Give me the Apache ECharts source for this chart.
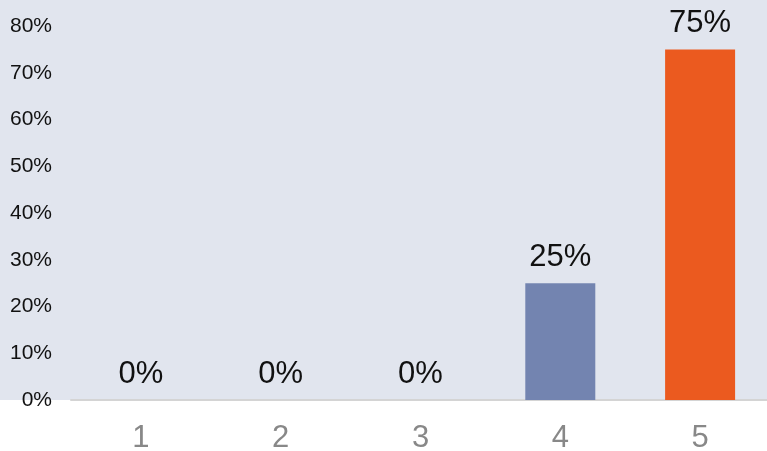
<!DOCTYPE html>
<html>
<head>
<meta charset="utf-8">
<script src="https://cdn.jsdelivr.net/npm/echarts@6/dist/echarts.min.js"></script>
<style>
html,body{margin:0;padding:0;background:#fff;}
#chart{width:767px;height:451px;}
</style>
</head>
<body>
<div id="chart"></div>
<script>
const categories = ['1', '2', '3', '4', '5'];
const values = [0, 0, 0, 0.25, 0.75];
const barColors = ['#7384b0', '#7384b0', '#7384b0', '#7384b0', '#eb5a1f'];
const yTicks = [0, 0.1, 0.2, 0.3, 0.4, 0.5, 0.6, 0.7, 0.8];

const FONT = '"Liberation Sans", Arial, sans-serif';
const chart = echarts.init(document.getElementById('chart'), null, {renderer: 'canvas'});
const pct = v => Math.round(v * 100) + '%';

chart.setOption({
  animation: false,
  backgroundColor: '#ffffff',
  textStyle: {fontFamily: FONT},
  graphic: [{
    type: 'rect',
    z: -10,
    silent: true,
    shape: {x: 0, y: 0, width: 767, height: 400},
    style: {fill: '#e1e5ee'}
  }],
  grid: {left: 71, right: -3, top: 26, bottom: 51, containLabel: false, outerBoundsMode: 'none'},
  xAxis: {
    type: 'category',
    data: categories,
    axisLine: {show: true, lineStyle: {color: '#d4d4d4', width: 2}},
    axisTick: {show: false},
    axisLabel: {color: '#888888', fontSize: 31, margin: 23, fontFamily: FONT}
  },
  yAxis: {
    type: 'value',
    min: yTicks[0],
    max: yTicks[yTicks.length - 1],
    interval: 0.1,
    axisLine: {show: false},
    axisTick: {show: false},
    splitLine: {show: false},
    axisLabel: {color: '#111111', fontSize: 21, margin: 19, formatter: pct, fontFamily: FONT}
  },
  series: [{
    type: 'bar',
    barWidth: 70,
    data: values.map((v, i) => ({value: v, itemStyle: {color: barColors[i]}})),
    label: {
      show: true,
      position: 'top',
      distance: 10,
      fontSize: 31,
      color: '#111111',
      fontFamily: FONT,
      formatter: p => pct(p.value)
    }
  }]
});
</script>
</body>
</html>
